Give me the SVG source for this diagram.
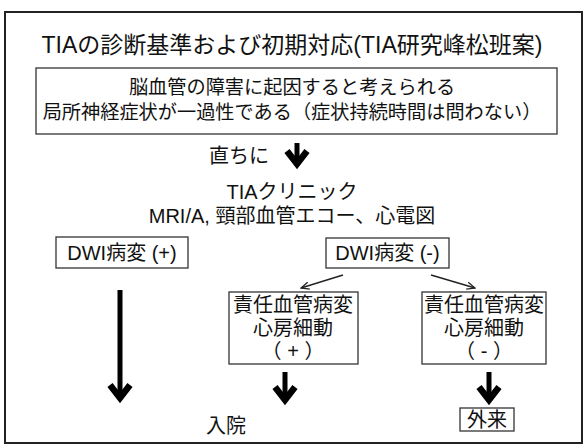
<svg xmlns="http://www.w3.org/2000/svg" width="586" height="448" viewBox="0 0 586 448">
<defs>
<style>
text{font-family:"Liberation Sans","Noto Sans CJK JP",sans-serif;fill:#111;text-anchor:middle}
.t{font-size:23px}
.m{font-size:20px}
.d{font-size:19.2px}
.box{fill:#fff;stroke:#333;stroke-width:1.3}
.shaft{stroke:#000;stroke-width:5;fill:none}
.head{stroke:#000;stroke-width:6.5;fill:none;stroke-linejoin:miter;stroke-linecap:butt}
.thin{stroke:#222;stroke-width:1.4;fill:none;marker-end:url(#oa)}
</style>
<marker id="oa" viewBox="0 0 10 10" refX="9" refY="5" markerWidth="9" markerHeight="9" markerUnits="userSpaceOnUse" orient="auto">
<path d="M0,1 L9,5 L0,9" fill="none" stroke="#222" stroke-width="1.4"/>
</marker>
</defs>
<rect x="5" y="12" width="577" height="431" fill="#fff" stroke="#222" stroke-width="2"/>
<g id="title"><text class="t" x="292" y="53">TIAの診断基準および初期対応(TIA研究峰松班案)</text></g>
<g id="definition">
<rect class="box" x="36" y="68" width="521" height="66"/>
<text class="d" x="292" y="94">脳血管の障害に起因すると考えられる</text>
<text class="d" x="292" y="119">局所神経症状が一過性である（症状持続時間は問わない）</text>
</g>
<g id="immediately"><text class="m" x="239" y="163">直ちに</text></g>
<g id="clinic">
<text class="m" x="292" y="199">TIAクリニック</text>
<text class="m" x="292" y="223">MRI/A, 頸部血管エコー、心電図</text>
</g>
<g id="dwi-pos"><rect class="box" x="56" y="237" width="132" height="31"/><text class="m" x="122" y="260">DWI病変 (+)</text></g>
<g id="dwi-neg"><rect class="box" x="326" y="238" width="123" height="30"/><text class="m" x="387.5" y="260">DWI病変 (-)</text></g>
<g id="cause-pos"><rect class="box" x="229" y="292" width="129" height="72"/>
<text class="m" x="293" y="312">責任血管病変</text><text class="m" x="293" y="335">心房細動</text><text class="m" x="293" y="358">（ + ）</text></g>
<g id="cause-neg"><rect class="box" x="422" y="292" width="124" height="72"/>
<text class="m" x="484" y="312">責任血管病変</text><text class="m" x="484" y="335">心房細動</text><text class="m" x="484" y="358">（ - ）</text></g>
<g id="admit"><text class="m" x="226" y="433">入院</text></g>
<g id="outpatient"><rect class="box" x="460" y="408" width="54" height="23"/><text class="m" x="487" y="427">外来</text></g>
<g id="connectors">
<line class="shaft" x1="297" y1="143" x2="297" y2="163"/><polyline class="head" points="287,151 297,164 307,151"/>
<line class="thin" x1="343" y1="275" x2="301" y2="288"/>
<line class="thin" x1="431" y1="275" x2="475" y2="288"/>
<line class="shaft" x1="120" y1="290" x2="120" y2="397"/><polyline class="head" points="110,385 120,398 130,385"/>
<line class="shaft" x1="285" y1="372" x2="285" y2="399"/><polyline class="head" points="275,387 285,400 295,387"/>
<line class="shaft" x1="489" y1="372" x2="489" y2="399"/><polyline class="head" points="479,387 489,400 499,387"/>
</g>
</svg>
